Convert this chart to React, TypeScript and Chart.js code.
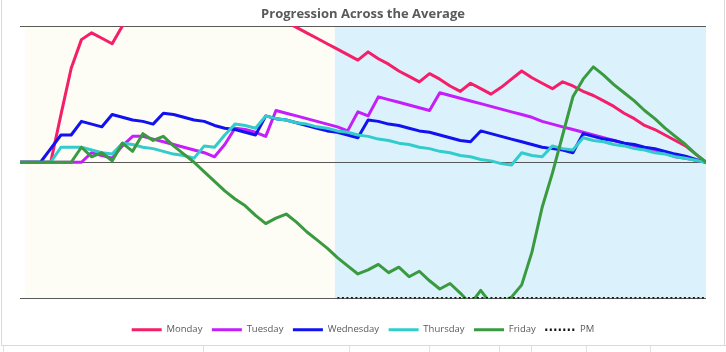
import React, { useEffect, useRef } from 'react';
import { Chart, registerables } from 'chart.js';

Chart.register(...registerables);

const chartTitle = 'Progression Across the Average';
const seriesNames = ['Monday', 'Tuesday', 'Wednesday', 'Thursday', 'Friday', 'PM'];

const monday = [
  0, 0, 0, 0, 0.35, 0.69, 0.9, 0.95, 0.91, 0.87,
  1.0, 1.08, 1.12, 1.15, 1.18, 1.2, 1.22, 1.2, 1.22, 1.2,
  1.18, 1.16, 1.14, 1.11, 1.09, 1.07, 1.03, 0.99, 0.95, 0.91,
  0.87, 0.83, 0.79, 0.75, 0.81, 0.76, 0.72, 0.67, 0.63, 0.59,
  0.65, 0.61, 0.56, 0.52, 0.58, 0.54, 0.5, 0.55, 0.61, 0.67,
  0.62, 0.58, 0.54, 0.59, 0.56, 0.52, 0.49, 0.45, 0.41, 0.36,
  0.32, 0.27, 0.24, 0.2, 0.16, 0.12, 0.06, 0,
];

const tuesday = [
  0, 0, 0, 0, 0, 0, 0, 0.07, 0.05, 0.03,
  0.12, 0.19, 0.19, 0.17, 0.15, 0.13, 0.11, 0.09, 0.07, 0.04,
  0.13, 0.25, 0.24, 0.22, 0.19, 0.38, 0.36, 0.34, 0.32, 0.3,
  0.28, 0.26, 0.23, 0.37, 0.34, 0.48, 0.46, 0.44, 0.42, 0.4,
  0.38, 0.51, 0.49, 0.47, 0.45, 0.43, 0.41, 0.39, 0.37, 0.35,
  0.33, 0.3, 0.28, 0.26, 0.24, 0.22, 0.2, 0.18, 0.16, 0.14,
  0.12, 0.1, 0.09, 0.07, 0.04, 0.03, 0.015, 0,
];

const wednesday = [
  0, 0, 0, 0.1, 0.2, 0.2, 0.3, 0.28, 0.26, 0.35,
  0.33, 0.31, 0.3, 0.28, 0.36, 0.35, 0.33, 0.31, 0.3, 0.27,
  0.25, 0.24, 0.22, 0.2, 0.34, 0.32, 0.31, 0.29, 0.27, 0.25,
  0.23, 0.22, 0.2, 0.18, 0.31, 0.3, 0.28, 0.27, 0.25, 0.23,
  0.22, 0.2, 0.18, 0.16, 0.15, 0.23, 0.21, 0.19, 0.17, 0.15,
  0.13, 0.11, 0.1, 0.09, 0.07, 0.21, 0.19, 0.17, 0.16, 0.14,
  0.13, 0.11, 0.1, 0.08, 0.06, 0.045, 0.02, 0,
];

const thursday = [
  0, 0, 0, 0, 0.11, 0.11, 0.11, 0.09, 0.07, 0.06,
  0.14, 0.13, 0.11, 0.1, 0.08, 0.06, 0.05, 0.03, 0.12, 0.11,
  0.2, 0.28, 0.27, 0.25, 0.34, 0.32, 0.31, 0.29, 0.28, 0.26,
  0.25, 0.23, 0.22, 0.2, 0.19, 0.17, 0.16, 0.14, 0.13, 0.11,
  0.1, 0.08, 0.07, 0.05, 0.04, 0.02, 0.01, -0.01, -0.02, 0.07,
  0.05, 0.04, 0.12, 0.1, 0.09, 0.18, 0.16, 0.15, 0.13, 0.12,
  0.1, 0.09, 0.07, 0.06, 0.04, 0.03, 0.015, 0,
];

const friday = [
  0, 0, 0, 0, 0, 0, 0.11, 0.04, 0.07, 0.01,
  0.14, 0.08, 0.21, 0.16, 0.19, 0.12, 0.06, 0.0, -0.07, -0.14,
  -0.21, -0.27, -0.32, -0.39, -0.45, -0.41, -0.38, -0.44, -0.51, -0.57,
  -0.63, -0.7, -0.76, -0.82, -0.79, -0.75, -0.81, -0.77, -0.84, -0.8,
  -0.87, -0.93, -0.89, -0.96, -1.04, -0.94, -1.04, -1.03, -0.99, -0.9,
  -0.66, -0.33, -0.08, 0.2, 0.48, 0.61, 0.7, 0.64, 0.57, 0.51,
  0.45, 0.38, 0.32, 0.25, 0.19, 0.13, 0.06, 0,
];

const pm = [
  null, null, null, null, null, null, null, null, null, null,
  null, null, null, null, null, null, null, null, null, null,
  null, null, null, null, null, null, null, null, null, null,
  null, -1, -1, -1, -1, -1, -1, -1, -1, -1,
  -1, -1, -1, -1, -1, -1, -1, -1, -1, -1,
  -1, -1, -1, -1, -1, -1, -1, -1, -1, -1,
  -1, -1, -1, -1, -1, -1, -1, -1,
];

// session shading, in x-value units
const morningSpan = [0.5, 30.75];
const afternoonSpan = [30.75, 67];

const colors = ['#F51E68', '#C41EFA', '#1212F0', '#33CCCC', '#3A9A40', '#111111'];
const pmDash = [2, 2.5];

const FONT = '"Open Sans", "Noto Sans", sans-serif';

const sessionPlugin = {
  id: 'sessions',
  beforeDraw(chart: any) {
    const { ctx, chartArea, scales } = chart;
    const x = scales.x;
    const fill = (span: number[], color: string) => {
      const x0 = x.getPixelForValue(span[0]);
      const x1 = x.getPixelForValue(span[1]);
      ctx.save();
      ctx.fillStyle = color;
      ctx.fillRect(x0, chartArea.top, x1 - x0, chartArea.bottom - chartArea.top);
      ctx.restore();
    };
    fill(morningSpan, '#FDFCF5');
    fill(afternoonSpan, '#DBF2FC');
  },
};

export default function App() {
  const canvasRef = useRef<HTMLCanvasElement | null>(null);

  useEffect(() => {
    document.body.style.margin = '0';
    const canvas = canvasRef.current;
    if (!canvas) return;
    const all = [monday, tuesday, wednesday, thursday, friday, pm];
    const datasets = all.map((vals, k) => ({
      label: seriesNames[k],
      data: vals.map((v, i) => ({ x: i, y: v })),
      borderColor: colors[k],
      backgroundColor: colors[k],
      borderWidth: 3,
      borderDash: k === 5 ? pmDash : [],
      pointRadius: 0,
      pointHoverRadius: 0,
      tension: 0,
      borderJoinStyle: 'round' as const,
      spanGaps: false,
      order: 5 - k,
    }));

    const chart = new Chart(canvas, {
      type: 'line',
      data: { datasets },
      plugins: [sessionPlugin],
      options: {
        responsive: false,
        animation: false,
        events: [],
        layout: { padding: { left: 20, right: 20, top: 0, bottom: 7.5 } },
        scales: {
          x: {
            type: 'linear',
            min: 0,
            max: 67,
            display: true,
            ticks: { display: false },
            grid: { display: false, drawTicks: false },
            border: { display: false },
            afterFit: (scale: any) => {
              scale.height = 17;
            },
          },
          y: {
            min: -1,
            max: 1,
            ticks: { display: false, stepSize: 1 },
            grid: { color: '#595959', lineWidth: 1, drawTicks: false },
            border: { display: false },
          },
        },
        plugins: {
          title: {
            display: true,
            text: chartTitle,
            color: '#595959',
            font: { family: FONT, size: 13, weight: 'bold' },
            padding: { top: 6.5, bottom: 3.9 },
          },
          legend: {
            display: true,
            position: 'bottom',
            labels: {
              usePointStyle: true,
              pointStyle: 'line',
              pointStyleWidth: 30,
              color: '#595959',
              font: { family: FONT, size: 9.5 },
              padding: 9.5,
              sort: (a: any, b: any) => a.datasetIndex - b.datasetIndex,
              generateLabels: (c: any) => {
                const items = Chart.defaults.plugins.legend.labels.generateLabels(c);
                items.forEach((it: any) => {
                  if (it.text === 'PM') {
                    it.lineWidth = 2.5;
                    it.lineDash = pmDash;
                  }
                });
                return items;
              },
            },
          },
          tooltip: { enabled: false },
        },
      },
    });
    return () => chart.destroy();
  }, []);

  const cellLines = [3, 203, 349, 429, 499, 531, 586, 650];

  return (
    <div style={{ position: 'relative', width: 726, height: 352, background: '#ffffff', overflow: 'hidden' }}>
      <canvas ref={canvasRef} width={726} height={352} style={{ position: 'absolute', left: 0, top: 0, width: 726, height: 352 }} />
      <div style={{ position: 'absolute', left: 1, top: 0, width: 1, height: 346, background: '#D9D9D9' }} />
      <div style={{ position: 'absolute', left: 724, top: 0, width: 1, height: 346, background: '#D9D9D9' }} />
      <div style={{ position: 'absolute', left: 1, top: 345, width: 725, height: 1, background: '#D9D9D9' }} />
      {cellLines.map((x) => (
        <div key={x} style={{ position: 'absolute', left: x, top: 346, width: 1, height: 6, background: '#E1E1E1' }} />
      ))}
    </div>
  );
}
